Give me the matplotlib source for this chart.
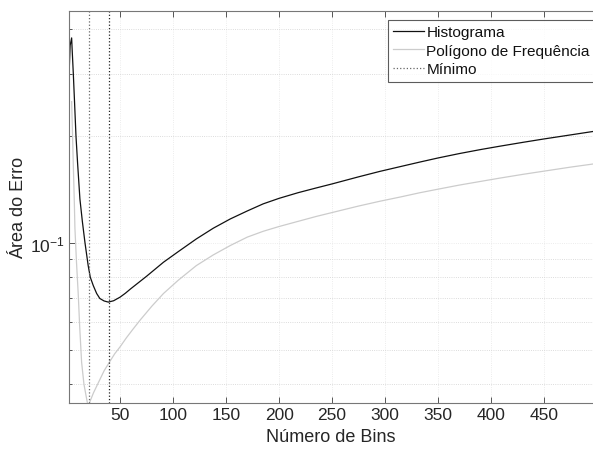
# import libraries
import matplotlib
matplotlib.use('Agg')
import matplotlib.pyplot as plt
from matplotlib.ticker import FixedLocator, NullFormatter, LogFormatterMathtext

plt.rcParams['font.family'] = ['Liberation Sans', 'DejaVu Sans']
plt.rcParams['mathtext.fontset'] = 'custom'
plt.rcParams['mathtext.rm'] = 'Liberation Sans'
plt.rcParams['mathtext.it'] = 'Liberation Sans:italic'
plt.rcParams['axes.unicode_minus'] = False

# values
bins_hist = [2, 3, 4.4, 5, 6, 7, 8.5, 10, 12.2, 14.5, 17, 20, 22, 24.8, 28, 31, 35, 39,
             44, 50, 55, 60, 75, 91, 105, 122, 138, 154, 170, 185, 200, 218, 235, 250,
             275, 295, 315, 333, 350, 370, 390, 408, 430, 450, 475, 496]
err_hist = [0.30, 0.36, 0.378, 0.345, 0.299, 0.255, 0.200, 0.168, 0.133, 0.115, 0.100,
            0.0863, 0.080, 0.0758, 0.0720, 0.0697, 0.0686, 0.0681, 0.0687, 0.0703,
            0.0721, 0.0742, 0.0805, 0.0882, 0.0945, 0.1026, 0.1100, 0.1168, 0.1230,
            0.1288, 0.1335, 0.1385, 0.1428, 0.1466, 0.1535, 0.1590, 0.1642, 0.1690,
            0.1735, 0.1785, 0.1832, 0.1872, 0.1920, 0.1963, 0.2015, 0.2060]

bins_poly = [4.4, 5, 6, 7, 7.5, 9, 10.7, 12, 13.8, 16, 18.5, 20, 21, 25, 30, 35, 39, 45,
             50, 56, 62, 69, 80, 91, 105, 122, 138, 154, 170, 185, 200, 218, 235, 257,
             275, 295, 315, 333, 350, 370, 390, 408, 430, 450, 475, 496]
err_poly = [0.25, 0.215, 0.165, 0.128, 0.11, 0.088, 0.071, 0.058, 0.0461, 0.0400,
            0.0364, 0.0345, 0.0353, 0.0378, 0.0406, 0.0436, 0.0456, 0.0487, 0.0509,
            0.0540, 0.0570, 0.0606, 0.0663, 0.0720, 0.0785, 0.0863, 0.0925, 0.0983,
            0.1038, 0.1078, 0.1112, 0.1150, 0.1187, 0.1232, 0.1270, 0.1310, 0.1348,
            0.1385, 0.1417, 0.1455, 0.1490, 0.1522, 0.1560, 0.1593, 0.1635, 0.1668]

min_poly = 21
min_hist = 40

x_ticks = [50, 100, 150, 200, 250, 300, 350, 400, 450]

text_col = '#262626'

fig = plt.figure(figsize=(5.93, 4.52), dpi=100)
ax = fig.add_axes([69.3 / 593, 1 - 403.5 / 452, 1 - 69.3 / 593, (403.5 - 11.7) / 452])

ax.plot(bins_hist, err_hist, color='#111111', lw=0.9, label='Histograma')
ax.plot(bins_poly, err_poly, color='#cccccc', lw=0.9, label='Polígono de Frequência')
ax.axvline(min_poly, color='#666666', ls=':', lw=0.9, label='Mínimo')
ax.axvline(min_hist, color='#222222', ls=':', lw=0.9)

ax.set_yscale('log')
ax.set_xlim(2.2, 496)
ax.set_ylim(0.0355, 0.451)

ax.xaxis.set_major_locator(FixedLocator(x_ticks))
ax.yaxis.set_major_locator(FixedLocator([0.1]))
ax.yaxis.set_major_formatter(LogFormatterMathtext())
ax.yaxis.set_minor_locator(FixedLocator([0.04, 0.05, 0.06, 0.07, 0.08, 0.09, 0.2, 0.3, 0.4]))
ax.yaxis.set_minor_formatter(NullFormatter())

ax.tick_params(which='both', direction='in', top=True, right=False, colors='#555555',
               labelcolor=text_col, labelsize=12.5, width=0.7)
ax.tick_params(which='major', length=4)
ax.tick_params(which='minor', length=2.5)

for s in ['left', 'bottom', 'top']:
    ax.spines[s].set_color('#777777')
    ax.spines[s].set_linewidth(0.8)
ax.spines['right'].set_visible(False)

ax.grid(True, which='major', color='#e6e6e6', lw=0.6, ls=':')
ax.grid(True, which='minor', axis='y', color='#d0d0d0', lw=0.6, ls=':')
ax.set_axisbelow(True)

ax.set_xlabel('Número de Bins', fontsize=13, color=text_col, labelpad=4)
ax.set_ylabel('Área do Erro', fontsize=13, color=text_col, labelpad=2)

leg = ax.legend(loc='upper right', bbox_to_anchor=(1.004, 1 - 20.7 / 452),
                bbox_transform=fig.transFigure, fontsize=11.1, frameon=True,
                fancybox=False, borderaxespad=0, handlelength=2.0, handletextpad=0.15,
                labelspacing=0.3, borderpad=0.36)
leg.get_frame().set_edgecolor('#333333')
leg.get_frame().set_linewidth(0.8)
for t in leg.get_texts():
    t.set_color('#111111')

fig.savefig('out.png', dpi=100)
